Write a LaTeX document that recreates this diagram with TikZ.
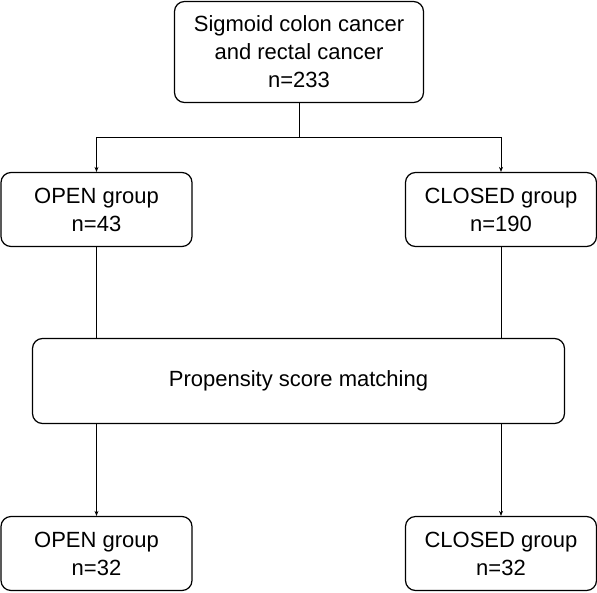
\documentclass[tikz,border=0pt]{standalone}
\usepackage{fontspec}
\setmainfont{Liberation Sans}
\usetikzlibrary{positioning,arrows.meta}
\begin{document}
\begin{tikzpicture}[x=1pt,y=-1pt,
  box/.style={draw,rounded corners=10pt,line width=1.2pt,align=center,inner sep=0pt,
    font=\fontsize{22}{28}\selectfont},
  group/.style={box,minimum width=191pt,minimum height=74pt},
  arr/.style={-{Stealth[length=5pt,width=4pt]},line width=0.8pt}]
\useasboundingbox (0,0) rectangle (597,592);
% boxes
\node[box,minimum width=249pt,minimum height=101pt] (all) at (299,52)
  {Sigmoid colon cancer\\and rectal cancer\\n=233};
\node[group] (open1) at (96.5,209.5) {OPEN group\\n=43};
\node[group] (closed1) at (501,209.5) {CLOSED group\\n=190};
\node[box,minimum width=532pt,minimum height=85pt] (psm) at (298.5,381)
  {Propensity score matching};
\node[group] (open2) at (96.5,553.5) {OPEN group\\n=32};
\node[group] (closed2) at (501,553.5) {CLOSED group\\n=32};
% connectors
\draw[line width=0.8pt] (all.south) -- ++(0,34) coordinate (split);
\draw[line width=0.8pt] (open1.north |- split) -- (closed1.north |- split);
\draw[arr] (open1.north |- split) -- (open1.north);
\draw[arr] (closed1.north |- split) -- (closed1.north);
\draw[line width=0.8pt] (open1.south) -- (open1.south |- psm.north);
\draw[line width=0.8pt] (closed1.south) -- (closed1.south |- psm.north);
\draw[arr] (open2.north |- psm.south) -- (open2.north);
\draw[arr] (closed2.north |- psm.south) -- (closed2.north);
\end{tikzpicture}
\end{document}
